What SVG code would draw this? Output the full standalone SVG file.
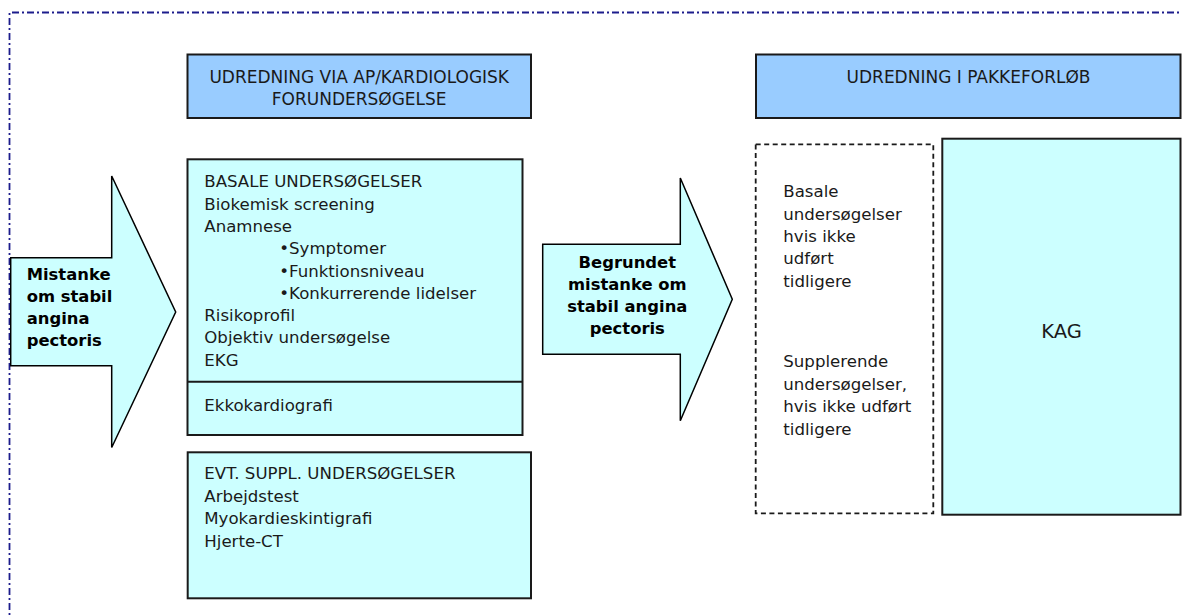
<svg xmlns="http://www.w3.org/2000/svg" width="1182" height="616" viewBox="0 0 1182 616">
<style>
  .frame{fill:none;stroke:#1c1c8c;stroke-width:1.8;stroke-dasharray:7 3 2 3}
  .hdr{fill:#99ccff;stroke:#1a1a1a;stroke-width:2}
  .box{fill:#ccffff;stroke:#1a1a1a;stroke-width:2}
  .dash{fill:#ffffff;stroke:#1a1a1a;stroke-width:1.8;stroke-dasharray:5 3.5}
  .arrow{fill:#ccffff;stroke:#000000;stroke-width:1.5;stroke-linejoin:miter}
  text{font-family:"DejaVu Sans","Liberation Sans",sans-serif;fill:#1a1a1a}
  .t{font-size:16.6px}
  .h{font-size:17px}
  .b{font-size:16.4px;font-weight:bold;fill:#000}
  .k{font-size:19.5px}
</style>
<rect width="1182" height="616" fill="#ffffff"/>
<path class="frame" d="M9.5,640 V12.5 H1200"/>

<g id="arrow-mistanke">
  <path class="arrow" d="M10.7,257.7 H111.7 V176 L175.7,312 L111.7,447.5 V365.7 H10.7 Z"/>
  <text class="b" x="26.7" y="280">Mistanke</text>
  <text class="b" x="26.7" y="302.3">om stabil</text>
  <text class="b" x="26.7" y="324.3">angina</text>
  <text class="b" x="26.7" y="346">pectoris</text>
</g>

<g id="header-ap">
  <rect class="hdr" x="187.5" y="54.5" width="343.5" height="63.5"/>
  <text class="h" x="359.2" y="82.7" text-anchor="middle">UDREDNING VIA AP/KARDIOLOGISK</text>
  <text class="h" x="359.2" y="104.5" text-anchor="middle">FORUNDERSØGELSE</text>
</g>

<g id="basale">
  <rect class="box" x="187.5" y="159.3" width="335" height="275.7"/>
  <line x1="187.5" y1="381.7" x2="522.5" y2="381.7" stroke="#1a1a1a" stroke-width="2"/>
  <text class="t" x="204.3" y="186.7">BASALE UNDERSØGELSER</text>
  <text class="t" x="204.3" y="210">Biokemisk screening</text>
  <text class="t" x="204.3" y="231.7">Anamnese</text>
  <text class="t" x="279.3" y="254">•Symptomer</text>
  <text class="t" x="279.3" y="276.7">•Funktionsniveau</text>
  <text class="t" x="279.3" y="299">•Konkurrerende lidelser</text>
  <text class="t" x="204.3" y="320.7">Risikoprofil</text>
  <text class="t" x="204.3" y="343.3">Objektiv undersøgelse</text>
  <text class="t" x="204.3" y="366">EKG</text>
  <text class="t" x="204.3" y="410.7">Ekkokardiografi</text>
</g>

<g id="evt-suppl">
  <rect class="box" x="187.7" y="452.3" width="343.3" height="146"/>
  <text class="t" x="204.3" y="479.3">EVT. SUPPL. UNDERSØGELSER</text>
  <text class="t" x="204.3" y="501.7">Arbejdstest</text>
  <text class="t" x="204.3" y="524.3">Myokardieskintigrafi</text>
  <text class="t" x="204.3" y="546.7">Hjerte-CT</text>
</g>

<g id="arrow-begrundet">
  <path class="arrow" d="M542.7,244.3 H680.3 V178 L732.3,299.3 L680.3,420.7 V354.3 H542.7 Z"/>
  <text class="b" x="627.3" y="267.5" text-anchor="middle">Begrundet</text>
  <text class="b" x="627.3" y="290" text-anchor="middle">mistanke om</text>
  <text class="b" x="627.3" y="311.7" text-anchor="middle">stabil angina</text>
  <text class="b" x="627.3" y="333.5" text-anchor="middle">pectoris</text>
</g>

<g id="header-pakke">
  <rect class="hdr" x="756" y="54.5" width="424.5" height="63.5"/>
  <text class="h" x="968.5" y="82.7" text-anchor="middle">UDREDNING I PAKKEFORLØB</text>
</g>

<g id="dashed-box">
  <rect class="dash" x="755.7" y="144.3" width="177.6" height="369"/>
  <text class="t" x="783.3" y="197.3">Basale</text>
  <text class="t" x="783.3" y="220">undersøgelser</text>
  <text class="t" x="783.3" y="242">hvis ikke</text>
  <text class="t" x="783.3" y="264.3">udført</text>
  <text class="t" x="783.3" y="286.7">tidligere</text>
  <text class="t" x="783.3" y="367.3">Supplerende</text>
  <text class="t" x="783.3" y="390">undersøgelser,</text>
  <text class="t" x="783.3" y="412.3">hvis ikke udført</text>
  <text class="t" x="783.3" y="435">tidligere</text>
</g>

<g id="kag">
  <rect class="box" x="942.3" y="138.7" width="238.2" height="376"/>
  <text class="k" x="1061.5" y="337.7" text-anchor="middle">KAG</text>
</g>

<g id="connectors"></g>
</svg>
